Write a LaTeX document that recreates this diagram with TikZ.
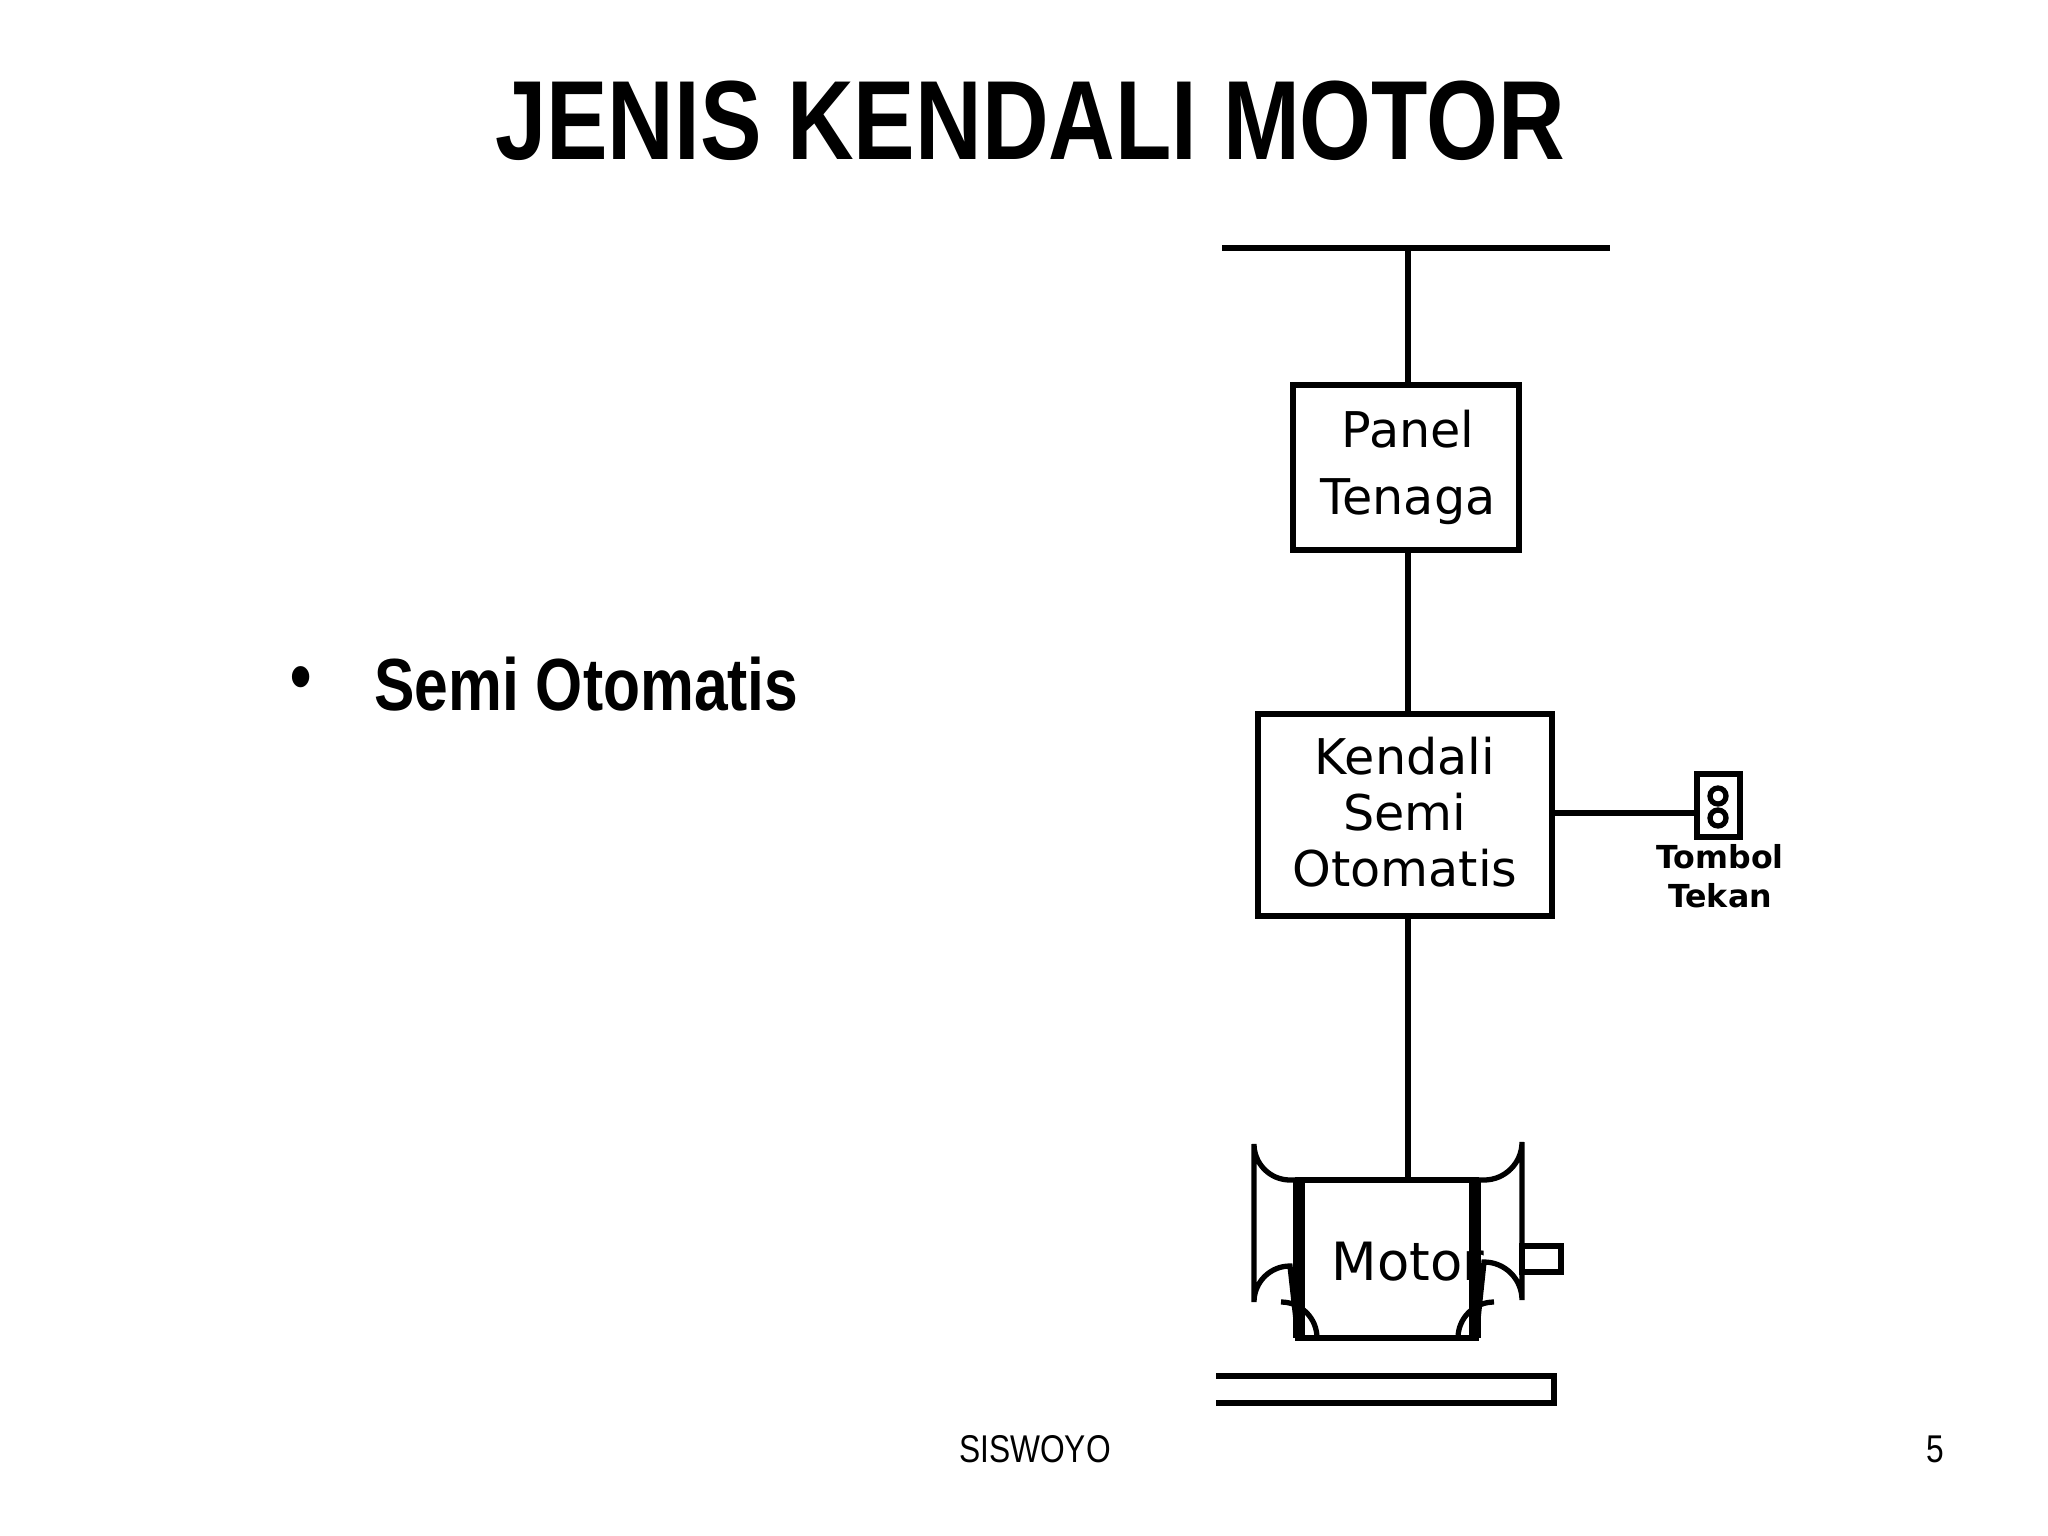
\documentclass[tikz,border=0pt]{standalone}
\usepackage{fontspec}
\setmainfont{Liberation Sans}
\newfontfamily\narrowfont[FakeStretch=0.82]{Liberation Sans}
\newfontfamily\boxfont{DejaVu Sans}
\begin{document}
\begin{tikzpicture}[x=0.01cm,y=-0.01cm,
  ln/.style={line width=1.5pt},
  blk/.style={draw,line width=1.5pt,minimum width=#1},
  lbl/.style={font=\boxfont\fontsize{14}{17}\selectfont,align=center,inner sep=0}]
\useasboundingbox (0,0) rectangle (2048,1536);
\node (title) at (1030,121) {\narrowfont\bfseries\fontsize{32}{36}\selectfont JENIS KENDALI MOTOR};
\node (bul) at (301,684) {\narrowfont\bfseries\fontsize{21}{24}\selectfont •};
\node[anchor=west] (semi) at (362,684) {\narrowfont\bfseries\fontsize{21}{24}\selectfont Semi Otomatis};
\node (foot) at (1035,1449) {\narrowfont\fontsize{11}{13}\selectfont SISWOYO};
\node (pg) at (1935,1449) {\narrowfont\fontsize{11}{13}\selectfont 5};
% bus
\coordinate (b1) at (1222,248); \coordinate (b2) at (1610,248); \coordinate (bm) at (1408,248);
\draw[ln] (b1) -- (b2);
\draw[ln] (1293,385) rectangle (1519,550);
\node[lbl] (panel) at (1408,467) {Panel\\[2pt]Tenaga};
\draw[ln] (1258,714) rectangle (1552,916);
\node[lbl] (kend) at (1405,812) {Kendali\\[-1pt]Semi\\[-1pt]Otomatis};
\coordinate (pt) at (1408,385); \coordinate (pb) at (1408,550);
\coordinate (kt) at (1408,714); \coordinate (kb) at (1408,916);
\coordinate (kr) at (1552,813); \coordinate (bl) at (1697,813);
\coordinate (mt) at (1408,1180);
\draw[ln] (bm) -- (pt); \draw[ln] (pb) -- (kt); \draw[ln] (kr) -- (bl); \draw[ln] (kb) -- (mt);
% button
\draw[ln] (1697,774) rectangle (1740,837);
\draw[ln] (1718,796) circle (8); \draw[ln] (1718,818) circle (8);
\node[font=\boxfont\bfseries\fontsize{9}{11}\selectfont,align=center,inner sep=0] (tt) at (1720,876) {Tombol\\Tekan};
% motor
\draw[ln] (1298,1180) rectangle (1476,1338);
\fill (1293,1180) rectangle (1305,1338);
\fill (1469,1180) rectangle (1481,1338);
\draw[ln] (1298,1180) -- (1290,1180) arc[start angle=90,end angle=180,radius=36] -- (1254,1302) arc[start angle=180,end angle=270,radius=36] -- (1298,1338);
\draw[ln] (1476,1180) -- (1484,1180) arc[start angle=90,end angle=0,radius=38] -- (1522,1300) arc[start angle=0,end angle=-90,radius=38] -- (1476,1338);
\draw[ln] (1522,1246) rectangle (1561,1272);
\node[font=\boxfont\fontsize{15}{18}\selectfont,inner sep=0] (mot) at (1408,1262) {Motor};
\draw[ln] (1317,1338) arc[start angle=0,end angle=-90,radius=36];
\draw[ln] (1458,1338) arc[start angle=180,end angle=270,radius=36];
\draw[ln] (1216,1376) -- (1554,1376) -- (1554,1403) -- (1216,1403);
\end{tikzpicture}
\end{document}
